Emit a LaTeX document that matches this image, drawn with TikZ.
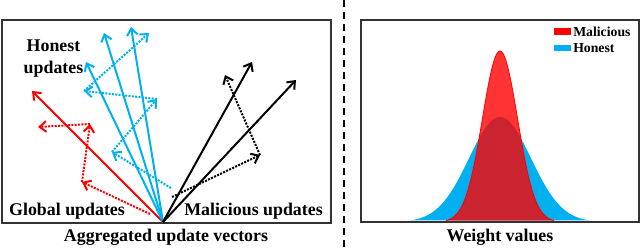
\documentclass[tikz,border=0pt]{standalone}
\usepackage{fontspec}
\setmainfont{Liberation Serif}
\usetikzlibrary{arrows.meta}
\definecolor{honestblue}{RGB}{0,176,240}
\tikzset{
  vec/.style={line width=1.5pt,-{Straight Barb[length=5pt,width=8pt]}},
  dotvec/.style={line width=1.5pt,densely dotted,-{Straight Barb[length=5pt,width=8pt]}},
  lbl/.style={font=\bfseries\fontsize{13.4}{16.5}\selectfont,inner sep=0pt},
  leglbl/.style={font=\bfseries\fontsize{10.3}{12}\selectfont,inner sep=0pt,anchor=west}
}
\begin{document}
\begin{tikzpicture}[x=0.75pt,y=-0.75pt]
  \useasboundingbox (0,0) rectangle (640,249);
  % Frames and separator
  \draw[line width=1pt,black!80] (2,20) rectangle (331,223);
  \draw[line width=1pt,black!80] (361,20) rectangle (639,222);
  \draw[line width=1.5pt,dash pattern=on 5pt off 4pt] (344,0) -- (344,249);
  % Common origin of all vectors
  \coordinate (orig) at (163,222);
  % Global updates (red)
  \coordinate (g) at (32,91);
  \coordinate (r0) at (150,214);
  \coordinate (r1) at (82,182);
  \coordinate (r2) at (90,124);
  \coordinate (r3) at (38,127);
  \draw[vec,red] (orig) -- (g);
  \foreach \a/\b in {r0/r1, r1/r2, r2/r3}%
    \draw[dotvec,red] (\a) -- (\b);
  % Honest updates (blue)
  \coordinate (h1) at (86,62);
  \coordinate (h2) at (104,33);
  \coordinate (h3) at (131,27);
  \coordinate (b0) at (171,188);
  \coordinate (b1) at (112,152);
  \coordinate (b2) at (157,99);
  \coordinate (b3) at (84,91);
  \coordinate (b4) at (149,33);
  \foreach \h in {h1,h2,h3}%
    \draw[vec,honestblue] (orig) -- (\h);
  \foreach \a/\b in {b0/b1, b1/b2, b2/b3, b3/b4}%
    \draw[dotvec,honestblue] (\a) -- (\b);
  % Malicious updates (black)
  \coordinate (m1) at (252,62);
  \coordinate (m2) at (296,80);
  \coordinate (k0) at (172,197);
  \coordinate (k1) at (260,155);
  \coordinate (k2) at (225,75);
  \foreach \m in {m1,m2}%
    \draw[vec,black] (orig) -- (\m);
  \foreach \a/\b in {k0/k1, k1/k2}%
    \draw[dotvec,black] (\a) -- (\b);
  % Labels of the left panel
  \node[lbl,align=center] (honest) at (53.5,59) {Honest\\updates};
  \node[lbl] (global) at (67,211) {Global updates};
  \node[lbl] (malicious) at (253.5,211) {Malicious updates};
  \node[lbl] (aggr) at (166,237) {Aggregated update vectors};
  % Weight distributions
  \fill[honestblue] plot[domain=410:590,samples=120,smooth]
    (\x,{222-105*exp(-((\x-500)/31)^2/2)}) -- cycle;
  \fill[red,opacity=0.8] plot[domain=446:554,samples=100,smooth]
    (\x,{222-171*exp(-((\x-500)/17.5)^2/2)}) -- cycle;
  \draw[red,line width=0.6pt] plot[domain=446:554,samples=100,smooth]
    (\x,{222-171*exp(-((\x-500)/17.5)^2/2)});
  \draw[line width=1pt,black!80] (361,222) -- (639,222);
  % Legend
  \fill[red] (554,28.5) rectangle (571,35);
  \node[leglbl] (legmal) at (573,32) {Malicious};
  \fill[honestblue] (554,45) rectangle (571,51.5);
  \node[leglbl] (leghon) at (573,48.5) {Honest};
  \node[lbl] (weight) at (500,237) {Weight values};
\end{tikzpicture}
\end{document}
